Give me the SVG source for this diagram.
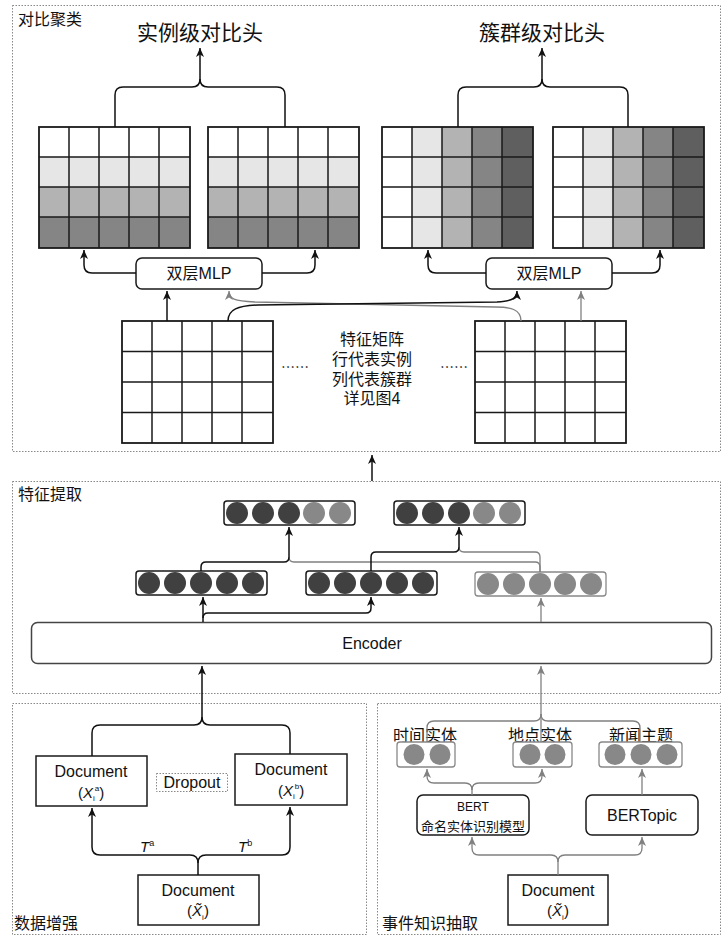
<svg xmlns="http://www.w3.org/2000/svg" width="722" height="936" viewBox="0 0 722 936">
<style>
text{font-family:"Liberation Sans","Noto Sans CJK SC",sans-serif;fill:#111}
.sec{fill:none;stroke:#888;stroke-width:1;stroke-dasharray:1.5 1.5}
.lbl{font-size:16px}
.sl{font-size:16px}
.ttl{font-size:21px}
.c{text-anchor:middle}
.box{fill:#fff;stroke:#1a1a1a;stroke-width:1.5}
.gbox{fill:#fff;stroke:#888;stroke-width:1.3}
.bl{fill:none;stroke:#111;stroke-width:1.5}
.gl{fill:none;stroke:#808080;stroke-width:1.3}
.dk{fill:#404040}
.gy{fill:#888}
</style>
<defs>
<marker id="ab" markerWidth="10" markerHeight="10" refX="9" refY="5" orient="auto" markerUnits="userSpaceOnUse"><path d="M0,1 L9,5 L0,9 L2.5,5 z" fill="#111"/></marker>
<marker id="ag" markerWidth="10" markerHeight="10" refX="9" refY="5" orient="auto" markerUnits="userSpaceOnUse"><path d="M0,1 L9,5 L0,9 L2.5,5 z" fill="#808080"/></marker>
<g id="cgrid">
<rect x="0" y="0" width="30" height="121" fill="#fff"/>
<rect x="30" y="0" width="30" height="121" fill="#e6e6e6"/>
<rect x="60" y="0" width="30" height="121" fill="#b3b3b3"/>
<rect x="90" y="0" width="30" height="121" fill="#858585"/>
<rect x="120" y="0" width="31" height="121" fill="#5f5f5f"/>
</g>
<g id="igrid">
<rect x="0" y="0" width="151" height="30" fill="#fff"/>
<rect x="0" y="30" width="151" height="30" fill="#e6e6e6"/>
<rect x="0" y="60" width="151" height="30" fill="#b3b3b3"/>
<rect x="0" y="90" width="151" height="31" fill="#858585"/>
</g>
<g id="lines">
<rect x="0" y="0" width="151" height="121" fill="none" stroke="#1a1a1a" stroke-width="1.8"/>
<path d="M30,0V121M60,0V121M90,0V121M120,0V121M0,30H151M0,60H151M0,90H151" stroke="#1a1a1a" stroke-width="1.5" fill="none"/>
</g>
<g id="lgrid">
<rect x="0" y="0" width="151" height="122" fill="#fff" stroke="#1a1a1a" stroke-width="1.8"/>
<path d="M30,0V122M60,0V122M90,0V122M120,0V122M0,30.5H151M0,61H151M0,91.5H151" stroke="#1a1a1a" stroke-width="1.5" fill="none"/>
</g>
</defs>

<!-- section frames -->
<g id="sections">
<rect class="sec" x="12.5" y="5.5" width="708" height="446"/>
<rect class="sec" x="12.5" y="481.5" width="708" height="212"/>
<rect class="sec" x="12.5" y="703.5" width="354" height="231"/>
<rect class="sec" x="377.5" y="703.5" width="343" height="231"/>
<text class="sl" x="18" y="25">对比聚类</text>
<text class="sl" x="18" y="500">特征提取</text>
<text class="sl" x="14" y="929">数据增强</text>
<text class="sl" x="382" y="929">事件知识抽取</text>
</g>

<!-- top heads -->
<g id="head-instance"><text class="ttl c" x="200" y="40">实例级对比头</text></g>
<g id="head-cluster"><text class="ttl c" x="542" y="40">簇群级对比头</text></g>

<g id="grid-inst-1"><use href="#igrid" x="39" y="127"/><use href="#lines" x="39" y="127"/></g>
<g id="grid-inst-2"><use href="#igrid" x="208" y="127"/><use href="#lines" x="208" y="127"/></g>
<g id="grid-clu-1"><use href="#cgrid" x="382" y="127"/><use href="#lines" x="382" y="127"/></g>
<g id="grid-clu-2"><use href="#cgrid" x="553" y="127"/><use href="#lines" x="553" y="127"/></g>

<g id="mlp-1"><rect class="box" x="136" y="258" width="126" height="31" rx="6"/><text class="lbl c" x="199" y="279">双层MLP</text></g>
<g id="mlp-2"><rect class="box" x="486" y="258" width="126" height="31" rx="6"/><text class="lbl c" x="549" y="279">双层MLP</text></g>

<g id="feat-1"><use href="#lgrid" x="122" y="321"/></g>
<g id="feat-2"><use href="#lgrid" x="475" y="321"/></g>
<g id="feat-text">
<text class="lbl c" x="372" y="345">特征矩阵</text>
<text class="lbl c" x="372" y="365">行代表实例</text>
<text class="lbl c" x="372" y="385">列代表簇群</text>
<text class="lbl c" x="372" y="404">详见图4</text>
<text class="c" x="295" y="372" font-size="14" style="font-family:'Noto Sans CJK SC',sans-serif">……</text>
<text class="c" x="454" y="372" font-size="14" style="font-family:'Noto Sans CJK SC',sans-serif">……</text>
</g>

<!-- feature extraction -->
<g id="vec-a"><rect class="box" x="224" y="501" width="131" height="24" rx="3"/>
<circle class="dk" cx="237" cy="513" r="11"/><circle class="dk" cx="263" cy="513" r="11"/><circle class="dk" cx="289" cy="513" r="11"/><circle class="gy" cx="314" cy="513" r="11"/><circle class="gy" cx="340" cy="513" r="11"/></g>
<g id="vec-b"><rect class="box" x="394" y="501" width="131" height="24" rx="3"/>
<circle class="dk" cx="407" cy="513" r="11"/><circle class="dk" cx="433" cy="513" r="11"/><circle class="dk" cx="459" cy="513" r="11"/><circle class="gy" cx="484" cy="513" r="11"/><circle class="gy" cx="510" cy="513" r="11"/></g>
<g id="vec-1"><rect class="box" x="136" y="571" width="131" height="24" rx="3"/>
<circle class="dk" cx="149" cy="583" r="11"/><circle class="dk" cx="175" cy="583" r="11"/><circle class="dk" cx="201" cy="583" r="11"/><circle class="dk" cx="227" cy="583" r="11"/><circle class="dk" cx="253" cy="583" r="11"/></g>
<g id="vec-2"><rect class="box" x="306" y="571" width="131" height="24" rx="3"/>
<circle class="dk" cx="319" cy="583" r="11"/><circle class="dk" cx="345" cy="583" r="11"/><circle class="dk" cx="371" cy="583" r="11"/><circle class="dk" cx="397" cy="583" r="11"/><circle class="dk" cx="423" cy="583" r="11"/></g>
<g id="vec-3"><rect class="gbox" x="475" y="572" width="131" height="24" rx="3"/>
<circle class="gy" cx="488" cy="584" r="11"/><circle class="gy" cx="514" cy="584" r="11"/><circle class="gy" cx="540" cy="584" r="11"/><circle class="gy" cx="565" cy="584" r="11"/><circle class="gy" cx="591" cy="584" r="11"/></g>

<g id="encoder"><rect x="31.5" y="622.5" width="680" height="41" rx="6" fill="#fff" stroke="#444" stroke-width="1.5"/><text class="lbl c" x="372" y="649">Encoder</text></g>

<!-- data augmentation -->
<g id="doc-a"><rect class="box" x="36" y="756" width="111" height="50"/>
<text class="lbl c" x="91" y="777">Document</text>
<text class="c" x="91" y="798" font-size="15">(<tspan font-style="italic">X</tspan><tspan font-size="8" dy="3">i</tspan><tspan font-size="8" dy="-10">a</tspan><tspan dy="7">)</tspan></text></g>
<g id="dropout"><rect x="156.5" y="773.5" width="71" height="18" fill="none" stroke="#888" stroke-width="1" stroke-dasharray="1.5 1.5"/><text class="lbl c" x="192" y="788">Dropout</text></g>
<g id="doc-b"><rect class="box" x="235" y="754" width="112" height="51"/>
<text class="lbl c" x="291" y="775">Document</text>
<text class="c" x="291" y="796" font-size="15">(<tspan font-style="italic">X</tspan><tspan font-size="8" dy="3">i</tspan><tspan font-size="8" dy="-10">b</tspan><tspan dy="7">)</tspan></text></g>
<g id="doc-src-l"><rect class="box" x="138" y="875" width="121" height="50"/>
<text class="lbl c" x="198" y="896">Document</text>
<text class="c" x="198" y="916" font-size="15">(<tspan font-style="italic">X̃</tspan><tspan font-size="8" dy="4">i</tspan><tspan dy="-4">)</tspan></text></g>
<g id="t-labels">
<text x="140" y="852" font-size="15" font-style="italic">T<tspan font-size="9" dy="-6" font-style="normal">a</tspan></text>
<text x="238" y="852" font-size="15" font-style="italic">T<tspan font-size="9" dy="-6" font-style="normal">b</tspan></text>
</g>

<!-- event knowledge -->
<g id="ent-time"><text class="lbl" x="393" y="741">时间实体</text><rect class="gbox" x="397" y="742" width="58" height="25" rx="3"/>
<circle class="gy" cx="414" cy="754.5" r="10.5"/><circle class="gy" cx="440" cy="754.5" r="10.5"/></g>
<g id="ent-loc"><text class="lbl" x="508" y="741">地点实体</text><rect class="gbox" x="513" y="742" width="59" height="25" rx="3"/>
<circle class="gy" cx="530" cy="754.5" r="10.5"/><circle class="gy" cx="555" cy="754.5" r="10.5"/></g>
<g id="ent-topic"><text class="lbl" x="609" y="741">新闻主题</text><rect class="gbox" x="599" y="742" width="83" height="25" rx="3"/>
<circle class="gy" cx="615" cy="754.5" r="10.5"/><circle class="gy" cx="641" cy="754.5" r="10.5"/><circle class="gy" cx="667" cy="754.5" r="10.5"/></g>
<g id="bert"><rect class="box" x="417" y="795" width="112" height="40" rx="6"/>
<text class="c" x="473" y="811" font-size="12">BERT</text><text class="c" x="473" y="831" font-size="13">命名实体识别模型</text></g>
<g id="bertopic"><rect class="box" x="586" y="795" width="112" height="40" rx="6"/>
<text class="c" x="642" y="821" font-size="16">BERTopic</text></g>
<g id="doc-src-r"><rect class="box" x="508" y="875" width="100" height="50"/>
<text class="lbl c" x="558" y="896">Document</text>
<text class="c" x="558" y="916" font-size="15">(<tspan font-style="italic">X̃</tspan><tspan font-size="8" dy="4">i</tspan><tspan dy="-4">)</tspan></text></g>

<!-- connectors -->
<g id="connectors">
<path class="gl" d="M521,321 C521,309 510,307 495,307 L255,302 C234,301 229,299 229,291" marker-end="url(#ag)"/>
<path class="gl" d="M581,321 V291" marker-end="url(#ag)"/>
<path class="gl" d="M540,572 V567 Q540,562 535,562 H294 Q289,562 289,557"/>
<path class="gl" d="M540,572 V557 Q540,552 535,552 H464 Q459,552 459,547"/>
<path class="gl" d="M541,622 V598" marker-end="url(#ag)"/>
<path class="gl" d="M541,742 V666" marker-end="url(#ag)"/>
<path class="gl" d="M427,742 V728 Q427,721 434,721 H534 Q541,721 541,714"/>
<path class="gl" d="M640,742 V728 Q640,721 633,721 H548 Q541,721 541,714"/>
<path class="gl" d="M472,795 V790 Q472,783 465,783 H434 Q427,783 427,776 V769" marker-end="url(#ag)"/>
<path class="gl" d="M472,790 Q472,783 479,783 H535 Q542,783 542,776 V769" marker-end="url(#ag)"/>
<path class="gl" d="M642,795 V769" marker-end="url(#ag)"/>
<path class="gl" d="M558,875 V862 Q558,855 551,855 H479 Q472,855 472,848 V837" marker-end="url(#ag)"/>
<path class="gl" d="M558,862 Q558,855 565,855 H635 Q642,855 642,848 V837" marker-end="url(#ag)"/>
<path class="bl" d="M115,127 V95 Q115,87 123,87 H192 Q200,87 200,79 V48" marker-end="url(#ab)"/>
<path class="bl" d="M285,127 V95 Q285,87 277,87 H208 Q200,87 200,79"/>
<path class="bl" d="M458,127 V95 Q458,87 466,87 H534 Q542,87 542,79 V48" marker-end="url(#ab)"/>
<path class="bl" d="M628,127 V95 Q628,87 620,87 H550 Q542,87 542,79"/>
<path class="bl" d="M136,273 H92 Q84,273 84,265 V250" marker-end="url(#ab)"/>
<path class="bl" d="M262,273 H307 Q315,273 315,265 V250" marker-end="url(#ab)"/>
<path class="bl" d="M486,273 H436 Q428,273 428,265 V250" marker-end="url(#ab)"/>
<path class="bl" d="M612,273 H652 Q660,273 660,265 V250" marker-end="url(#ab)"/>
<path class="bl" d="M167,321 V291" marker-end="url(#ab)"/>
<path class="bl" d="M228,321 C228,309 238,306 258,305 L497,302 C513,301 517,298 517,291" marker-end="url(#ab)"/>
<path class="bl" d="M372,481 V455" marker-end="url(#ab)"/>
<path class="bl" d="M201,571 V567 Q201,562 206,562 H284 Q289,562 289,557 V527" marker-end="url(#ab)"/>
<path class="bl" d="M371,571 V557 Q371,552 376,552 H454 Q459,552 459,547 V527" marker-end="url(#ab)"/>
<path class="bl" d="M203,622 V597" marker-end="url(#ab)"/>
<path class="bl" d="M203,618 Q203,613 208,613 H366 Q371,613 371,608 V597" marker-end="url(#ab)"/>
<path class="bl" d="M92,756 V733 Q92,725 100,725 H194 Q202,725 202,717 V666" marker-end="url(#ab)"/>
<path class="bl" d="M290,754 V733 Q290,725 282,725 H210 Q202,725 202,717"/>
<path class="bl" d="M198,875 V863 Q198,855 190,855 H100 Q92,855 92,847 V808" marker-end="url(#ab)"/>
<path class="bl" d="M198,863 Q198,855 206,855 H282 Q290,855 290,847 V807" marker-end="url(#ab)"/>
</g>
</svg>
